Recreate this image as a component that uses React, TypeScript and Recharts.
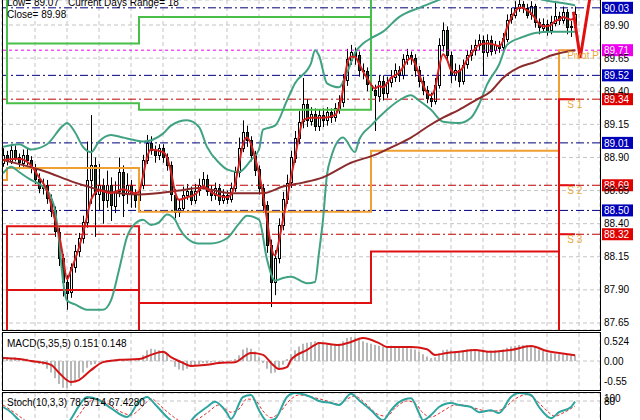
import {
  Bar,
  CartesianGrid,
  ComposedChart,
  Line,
  ReferenceDot,
  ReferenceLine,
  XAxis,
  YAxis,
} from 'recharts'

const FONT = '"Liberation Sans", Arial, sans-serif'

// open, high, low, close (30 min bars)
const candles: [number, number, number, number][] = [
  [88.86, 88.97, 88.83, 88.92], [88.92, 88.95, 88.84, 88.88], [88.88, 89.0, 88.85, 88.96], [88.96, 88.99, 88.87, 88.9],
  [88.9, 88.93, 88.81, 88.86], [88.86, 88.96, 88.83, 88.92], [88.92, 88.97, 88.84, 88.88], [88.88, 88.91, 88.78, 88.82],
  [88.82, 88.85, 88.7, 88.74], [88.74, 88.78, 88.63, 88.67], [88.67, 88.74, 88.62, 88.69], [88.69, 88.73, 88.55, 88.59],
  [88.59, 88.62, 88.45, 88.5], [88.5, 88.53, 88.3, 88.34], [88.34, 88.37, 88.08, 88.14], [88.14, 88.17, 87.85, 87.96],
  [87.96, 88.01, 87.75, 87.88], [87.88, 88.1, 87.84, 88.07], [88.07, 88.24, 88.03, 88.19], [88.19, 88.33, 88.15, 88.29],
  [88.29, 88.46, 88.25, 88.41], [88.41, 89.02, 88.37, 88.73], [88.73, 89.22, 88.55, 88.84], [88.84, 88.9, 88.3, 88.62],
  [88.62, 88.85, 88.5, 88.69], [88.69, 88.74, 88.4, 88.58], [88.58, 88.8, 88.52, 88.69], [88.69, 88.75, 88.42, 88.54],
  [88.54, 88.72, 88.48, 88.65], [88.65, 88.9, 88.6, 88.79], [88.79, 88.84, 88.45, 88.62], [88.62, 88.78, 88.55, 88.69],
  [88.69, 88.73, 88.52, 88.62], [88.62, 88.66, 88.52, 88.58], [88.58, 88.72, 88.54, 88.69], [88.69, 88.92, 88.66, 88.88],
  [88.88, 89.07, 88.85, 89.01], [89.01, 89.06, 88.92, 88.96], [88.96, 88.99, 88.86, 88.92], [88.92, 89.0, 88.88, 88.97],
  [88.97, 89.0, 88.86, 88.9], [88.9, 88.93, 88.8, 88.84], [88.84, 88.87, 88.57, 88.62], [88.62, 88.66, 88.44, 88.49],
  [88.49, 88.58, 88.45, 88.52], [88.52, 88.68, 88.49, 88.62], [88.62, 88.7, 88.58, 88.65], [88.65, 88.68, 88.54, 88.58],
  [88.58, 88.7, 88.55, 88.65], [88.65, 88.74, 88.61, 88.69], [88.69, 88.79, 88.66, 88.74], [88.74, 88.77, 88.61, 88.65],
  [88.65, 88.69, 88.57, 88.62], [88.62, 88.71, 88.58, 88.67], [88.67, 88.7, 88.54, 88.58], [88.58, 88.66, 88.55, 88.62],
  [88.62, 88.65, 88.55, 88.59], [88.59, 88.71, 88.56, 88.67], [88.67, 88.83, 88.64, 88.79], [88.79, 89.05, 88.75, 88.97],
  [88.97, 89.18, 88.94, 89.09], [89.09, 89.14, 88.98, 89.03], [89.03, 89.06, 88.87, 88.92], [88.92, 88.95, 88.76, 88.81],
  [88.81, 88.84, 88.62, 88.67], [88.67, 88.7, 88.48, 88.54], [88.54, 88.57, 88.18, 88.24], [88.24, 88.28, 87.77, 87.96],
  [87.96, 88.2, 87.86, 88.14], [88.14, 88.44, 88.1, 88.39], [88.39, 88.64, 88.35, 88.59], [88.59, 88.77, 88.55, 88.71],
  [88.71, 88.95, 88.67, 88.9], [88.9, 89.1, 88.86, 89.05], [89.05, 89.25, 89.0, 89.17], [89.17, 89.5, 89.12, 89.3],
  [89.3, 89.34, 89.13, 89.18], [89.18, 89.28, 89.14, 89.23], [89.23, 89.27, 89.1, 89.14], [89.14, 89.26, 89.1, 89.22],
  [89.22, 89.27, 89.13, 89.18], [89.18, 89.28, 89.14, 89.24], [89.24, 89.27, 89.16, 89.2], [89.2, 89.31, 89.17, 89.27],
  [89.27, 89.37, 89.23, 89.32], [89.32, 89.53, 89.28, 89.48], [89.48, 89.72, 89.44, 89.64], [89.64, 89.75, 89.6, 89.7],
  [89.7, 89.73, 89.6, 89.67], [89.67, 89.7, 89.51, 89.56], [89.56, 89.61, 89.49, 89.55], [89.55, 89.58, 89.4, 89.45],
  [89.45, 89.49, 89.35, 89.41], [89.41, 89.45, 89.1, 89.37], [89.37, 89.52, 89.32, 89.48], [89.48, 89.52, 89.33, 89.39],
  [89.39, 89.51, 89.35, 89.47], [89.47, 89.56, 89.43, 89.51], [89.51, 89.61, 89.47, 89.56], [89.56, 89.59, 89.47, 89.52],
  [89.52, 89.68, 89.49, 89.64], [89.64, 89.72, 89.6, 89.67], [89.67, 89.7, 89.6, 89.65], [89.65, 89.68, 89.51, 89.56],
  [89.56, 89.59, 89.43, 89.48], [89.48, 89.51, 89.37, 89.41], [89.41, 89.44, 89.31, 89.35], [89.35, 89.39, 89.28, 89.33],
  [89.33, 89.5, 89.3, 89.45], [89.45, 89.8, 89.42, 89.75], [89.75, 89.92, 89.7, 89.86], [89.86, 89.89, 89.62, 89.67],
  [89.67, 89.7, 89.46, 89.52], [89.52, 89.61, 89.48, 89.56], [89.56, 89.6, 89.43, 89.48], [89.48, 89.64, 89.45, 89.6],
  [89.6, 89.71, 89.57, 89.67], [89.67, 89.75, 89.63, 89.71], [89.71, 89.79, 89.67, 89.75], [89.75, 89.83, 89.71, 89.79],
  [89.79, 89.82, 89.52, 89.7], [89.7, 89.83, 89.66, 89.79], [89.79, 89.82, 89.67, 89.71], [89.71, 89.78, 89.68, 89.75],
  [89.75, 89.78, 89.69, 89.73], [89.73, 89.84, 89.7, 89.8], [89.8, 89.98, 89.77, 89.94], [89.94, 90.03, 89.91, 89.98],
  [89.98, 90.08, 89.95, 90.03], [90.03, 90.09, 90.0, 90.06], [90.06, 90.08, 89.99, 90.03], [90.03, 90.06, 89.95, 89.98],
  [89.98, 90.08, 89.94, 90.04], [90.04, 90.06, 89.88, 89.92], [89.92, 89.95, 89.83, 89.88], [89.88, 89.95, 89.85, 89.91],
  [89.91, 89.94, 89.82, 89.86], [89.86, 89.97, 89.83, 89.92], [89.92, 90.08, 89.89, 89.97], [89.97, 90.0, 89.9, 89.94],
  [89.94, 90.04, 89.91, 90.0], [90.0, 90.02, 89.83, 89.89], [89.89, 89.93, 89.81, 89.88], [89.88, 90.04, 89.85, 89.98],
]

// [bar, value] points
const fastMa: [number, number][] = [
  [0, 88.88], [4, 88.89], [7, 88.84], [9, 88.75], [11, 88.65], [13, 88.43], [14, 88.32], [15, 88.15], [16, 87.98],
  [17, 88.05], [19, 88.22], [21, 88.45], [22, 88.58], [24, 88.65], [27, 88.63], [30, 88.66], [33, 88.63], [34, 88.64],
  [35, 88.76], [36, 88.9], [37, 88.96], [40, 88.94], [41, 88.9], [42, 88.79], [43, 88.64], [44, 88.58], [46, 88.6],
  [48, 88.62], [50, 88.68], [52, 88.64], [54, 88.61], [56, 88.6], [57, 88.62], [58, 88.7], [59, 88.85], [60, 89.0],
  [61, 89.05], [62, 89.0], [63, 88.9], [64, 88.78], [65, 88.62], [66, 88.43], [67, 88.23], [68, 88.16], [69, 88.27],
  [70, 88.43], [71, 88.58], [72, 88.75], [73, 88.9], [74, 89.06], [75, 89.18], [77, 89.2], [80, 89.2], [83, 89.22],
  [84, 89.28], [85, 89.41], [86, 89.6], [87, 89.66], [88, 89.66], [89, 89.61], [90, 89.55], [91, 89.5], [92, 89.45],
  [93, 89.42], [94, 89.44], [95, 89.43], [96, 89.46], [97, 89.5], [99, 89.54], [100, 89.58], [101, 89.63], [102, 89.65],
  [103, 89.61], [104, 89.53], [105, 89.45], [106, 89.39], [107, 89.37], [108, 89.42], [109, 89.58], [110, 89.68],
  [111, 89.64], [112, 89.56], [113, 89.54], [114, 89.55], [115, 89.58], [116, 89.64], [117, 89.68], [118, 89.72],
  [119, 89.75], [121, 89.76], [123, 89.75], [124, 89.74], [125, 89.78], [126, 89.88], [127, 89.95], [128, 90.0],
  [129, 90.03], [130, 90.03], [131, 90.01], [132, 89.99], [133, 89.95], [134, 89.91], [135, 89.89], [136, 89.89],
  [137, 89.9], [138, 89.93], [139, 89.94], [140, 89.96], [141, 89.95], [142, 89.94], [143, 89.96],
]

const slowMa: [number, number][] = [
  [0, 88.88], [10, 88.8], [18, 88.71], [25, 88.65], [34, 88.62], [44, 88.65], [49, 88.67], [57, 88.63], [65, 88.63],
  [70, 88.68], [75, 88.71], [80, 88.75], [87, 88.86], [93, 88.92], [98, 88.99], [102, 89.05], [106, 89.13], [110, 89.2],
  [114, 89.26], [118, 89.33], [122, 89.4], [125, 89.5], [129, 89.58], [133, 89.62], [137, 89.67], [143, 89.71],
]

const bandUpper: [number, number][] = [
  [0, 88.98], [4, 89.0], [7, 88.96], [11, 89.0], [15, 89.14], [16, 89.16], [18, 89.09], [20, 88.98], [22, 88.94],
  [24, 89.02], [27, 89.07], [30, 89.05], [33, 89.03], [35, 89.02], [40, 89.08], [42, 89.14], [46, 89.18], [49, 89.13],
  [51, 88.98], [54, 88.86], [56, 88.81], [59, 88.79], [62, 88.88], [64, 88.96], [65, 89.11], [68, 89.14], [71, 89.33],
  [73, 89.46], [77, 89.61], [78, 89.71], [79, 89.67], [81, 89.46], [84, 89.43], [86, 89.54], [88, 89.69], [90, 89.76],
  [92, 89.8], [95, 89.85], [99, 89.96], [104, 90.03], [109, 90.09], [114, 90.16], [119, 90.2], [124, 90.18],
  [130, 90.15], [135, 90.09], [139, 90.07], [143, 90.05],
]

const bandLower: [number, number][] = [
  [0, 88.78], [2, 88.83], [4, 88.79], [7, 88.73], [10, 88.68], [12, 88.6], [13, 88.5], [14, 88.28], [15, 87.97],
  [16, 87.82], [18, 87.79], [21, 87.75], [25, 87.75], [27, 87.82], [29, 88.05], [31, 88.3], [33, 88.4], [35, 88.43],
  [37, 88.39], [39, 88.41], [41, 88.47], [43, 88.43], [44, 88.37], [46, 88.29], [49, 88.25], [52, 88.25], [56, 88.29],
  [59, 88.4], [61, 88.46], [64, 88.43], [66, 88.13], [68, 87.97], [70, 87.99], [72, 88.0], [76, 87.95], [78, 87.96],
  [79, 88.18], [80, 88.43], [81, 88.77], [82, 88.9], [85, 89.05], [88, 88.94], [89, 89.03], [92, 89.14], [96, 89.26],
  [99, 89.33], [102, 89.37], [104, 89.33], [107, 89.26], [110, 89.17], [114, 89.16], [117, 89.2], [119, 89.3],
  [121, 89.45], [124, 89.6], [126, 89.75], [130, 89.81], [133, 89.84], [137, 89.85], [143, 89.85],
]

// daily pivot levels, one value per day starting at the given bar
const dayStart = [0, 1, 34, 92, 139]
const pivotP = [88.73, 88.82, 88.49, 88.95, 89.71]
const pivotR1 = [90.3, 89.31, 89.26, 90.13, 90.3]
const pivotR2 = [90.5, 89.76, 89.96, 90.93, 90.9]
const pivotS1 = [87.3, 88.38, 87.8, 88.19, 89.34]
const pivotS2 = [87.0, 87.9, 87.0, 87.2, 88.69]
const pivotS3 = [86.5, 86.5, 86.5, 86.5, 88.32]

const projection: [number, number][] = [[142.6, 90.0], [144.3, 89.65], [146.8, 90.12]]

const priceTicks = [89.9, 89.65, 89.4, 89.15, 88.9, 88.65, 88.4, 88.15, 87.9, 87.65]
const blueLevels = [90.03, 89.52, 89.01, 88.5]
const pinkLevels = [89.71]
const redLevels = [89.34, 88.69, 88.32]
const gridBars = [8, 16, 24, 32, 40, 48, 56, 64, 72, 80, 88, 96, 104, 112, 120, 128, 136, 144]

const macdHist = [
  0.12, 0.1, 0.08, 0.1, 0.08, 0.05, 0.06, 0.02, -0.02, -0.08, -0.1,
  -0.2, -0.3, -0.45, -0.6, -0.7, -0.72, -0.65, -0.55, -0.45, -0.3,
  -0.18, -0.1, -0.08, -0.02, 0.0, 0.02, 0.03, 0.04, 0.02, 0.05,
  0.04, 0.03, 0.02, 0.05, 0.15, 0.28, 0.32, 0.3, 0.28, 0.25,
  0.18, 0.02, -0.15, -0.22, -0.25, -0.2, -0.15, -0.12, -0.08, -0.05,
  -0.06, -0.04, -0.02, -0.05, -0.03, 0.0, 0.02, 0.05, 0.15, 0.3,
  0.35, 0.32, 0.25, 0.1, -0.05, -0.2, -0.32, -0.3, -0.22, -0.1,
  0.05, 0.18, 0.28, 0.38, 0.45, 0.48, 0.5, 0.52, 0.48, 0.45,
  0.44, 0.43, 0.42, 0.45, 0.52, 0.6, 0.63, 0.62, 0.58, 0.52,
  0.48, 0.45, 0.42, 0.4, 0.38, 0.38, 0.4, 0.38, 0.36, 0.37,
  0.36, 0.33, 0.3, 0.25, 0.18, 0.12, 0.08, 0.1, 0.2, 0.28,
  0.3, 0.28, 0.26, 0.26, 0.28, 0.3, 0.31, 0.3, 0.29, 0.27,
  0.26, 0.27, 0.28, 0.27, 0.3, 0.35, 0.38, 0.4, 0.42, 0.42,
  0.42, 0.4, 0.36, 0.3, 0.26, 0.22, 0.2, 0.19, 0.18, 0.17, 0.16, 0.15, 0.151,
]
const macdSignal: [number, number][] = [
  [0, 0.08], [4, 0.05], [7, 0.0], [12, -0.1], [14, -0.31], [17, -0.55], [19, -0.5], [22, -0.24], [25, -0.03],
  [29, 0.03], [34, 0.05], [37, 0.16], [40, 0.24], [42, 0.1], [45, -0.05], [47, -0.13], [51, -0.1], [54, -0.05],
  [58, -0.03], [62, 0.21], [65, 0.16], [67, -0.05], [69, -0.21], [71, -0.16], [72, 0.03], [76, 0.29], [78, 0.42],
  [79, 0.47], [84, 0.42], [87, 0.5], [90, 0.6], [94, 0.47], [96, 0.37], [102, 0.37], [106, 0.31], [108, 0.16],
  [111, 0.21], [114, 0.24], [118, 0.29], [122, 0.24], [127, 0.29], [132, 0.39], [136, 0.26], [139, 0.21], [143, 0.148],
]

const stochMain: [number, number][] = [
  [0, 65], [2, 52], [4, 32], [6, 18], [9, 8], [12, 6], [15, 12], [17, 35], [19, 68], [21, 90], [24, 82], [27, 62],
  [31, 40], [34, 78], [36, 90], [38, 72], [41, 40], [43, 25], [46, 22], [48, 42], [51, 65], [53, 78], [56, 50],
  [57, 35], [60, 90], [62, 95], [64, 57], [66, 30], [68, 35], [71, 90], [73, 100], [77, 90], [79, 80], [82, 75],
  [84, 70], [87, 98], [89, 82], [92, 57], [95, 32], [97, 57], [99, 77], [102, 87], [104, 50], [105, 32], [107, 45],
  [109, 65], [112, 75], [114, 70], [117, 65], [119, 52], [122, 57], [124, 50], [127, 90], [129, 100], [132, 95],
  [134, 65], [137, 37], [139, 52], [142, 65], [143, 78.57],
]
const stochSignal: [number, number][] = [
  [0, 70], [3, 50], [5, 35], [8, 18], [11, 9], [14, 8], [17, 22], [19, 45], [21, 72], [23, 85], [26, 75], [29, 55],
  [32, 45], [35, 68], [37, 85], [40, 62], [42, 45], [45, 28], [48, 32], [51, 50], [54, 70], [57, 52], [59, 60],
  [61, 85], [63, 82], [65, 55], [67, 38], [69, 50], [72, 85], [74, 95], [78, 88], [81, 80], [84, 72], [86, 85],
  [88, 92], [91, 70], [94, 45], [96, 42], [98, 62], [101, 80], [103, 75], [105, 50], [107, 40], [110, 55], [113, 70],
  [115, 70], [118, 62], [121, 55], [123, 55], [125, 60], [128, 85], [131, 96], [133, 85], [136, 55], [138, 42],
  [140, 50], [143, 67.43],
]

const lookup = (pts: [number, number][]) => new Map(pts.map(([k, v]) => [k, v]))
const dayOf = (i: number) => {
  let d = 0
  dayStart.forEach((s, k) => {
    if (i >= s) d = k
  })
  return d
}

const fastMap = lookup(fastMa)
const slowMap = lookup(slowMa)
const upMap = lookup(bandUpper)
const loMap = lookup(bandLower)

const priceRows: any[] = candles.map(([o, h, l, c], i) => {
  const d = dayOf(i)
  return {
    i, o, h, l, c,
    fast: fastMap.get(i),
    slow: slowMap.get(i),
    up: upMap.get(i),
    lo: loMap.get(i),
    p: pivotP[d], r1: pivotR1[d], r2: pivotR2[d],
    s1: pivotS1[d], s2: pivotS2[d], s3: pivotS3[d],
  }
})
projection.forEach(([i, v]) => priceRows.push({ i, proj: v }))

const sigMap = lookup(macdSignal)
const macdRows = macdHist.map((v, i) => ({ i, hist: v, sig: sigMap.get(i) }))

const kMap = lookup(stochMain)
const dMap = lookup(stochSignal)
const stochRows = candles.map((_, i) => ({ i, k: kMap.get(i), d: dMap.get(i) }))

const X_DOMAIN = [-0.25, 149.25]

function Candle(props: any) {
  const { x, y, width, height, payload } = props
  if (!payload || payload.h == null || y == null) return <g />
  const { o, h, l, c } = payload
  const top = Math.min(y, y + height)
  const span = Math.abs(height)
  const toY = (v: number) => top + ((h - v) / (h - l || 1)) * span
  const cx = Math.round(x + width / 2) + 0.5
  const yo = toY(o)
  const yc = toY(c)
  const bTop = Math.round(Math.min(yo, yc)) + 0.5
  const bH = Math.max(Math.round(Math.abs(yo - yc)), 1)
  return (
    <g>
      <line x1={cx} x2={cx} y1={top} y2={top + span} stroke="#000" strokeWidth={1} />
      <rect x={cx - 1} y={bTop} width={2} height={bH} fill={c >= o ? '#fff' : '#1e3f1e'} stroke="#000" strokeWidth={1} />
    </g>
  )
}

const PriceTick = (props: any) => (
  <text x={604} y={props.y} dy={3.5} fontSize={10} fontFamily={FONT} fill="#000">
    {Number(props.payload.value).toFixed(2)}
  </text>
)

const levelBox = (value: number, bg: string) => (props: any) => {
  const vb = props.viewBox
  const x = vb.x + vb.width + 2
  return (
    <g>
      <rect x={x} y={vb.y - 6} width={31} height={12} fill={bg} />
      <text x={x + 2} y={vb.y + 4} fontSize={10} fontFamily={FONT} fill="#fff">
        {value.toFixed(2)}
      </text>
    </g>
  )
}

const pivotLabel = (text: string) => (props: any) => (
  <text x={props.viewBox.x} y={props.viewBox.y + 10} fontSize={10} fontFamily={FONT} fill="#e8a838">
    {text}
  </text>
)

const MacdTick = (props: any) => {
  const v = Number(props.payload.value)
  return (
    <text x={604} y={props.y} dy={3.5} fontSize={10} fontFamily={FONT} fill="#000">
      {v === 0 ? '0.00' : String(v)}
    </text>
  )
}

const StochTick = (props: any) => {
  const v = Number(props.payload.value)
  return (
    <text x={604} y={props.y} dy={v === 100 ? 9 : 4} fontSize={10} fontFamily={FONT} fill="#000">
      {String(v)}
    </text>
  )
}

const box = (top: number, height: number) => ({
  position: 'absolute' as const,
  left: 2,
  top,
  width: 599,
  height,
  border: '1px solid #000',
  boxSizing: 'border-box' as const,
  pointerEvents: 'none' as const,
})

export default function App() {
  const line = { dot: false, connectNulls: true, isAnimationActive: false }
  return (
    <div style={{ position: 'absolute', left: 0, top: 0, width: 640, height: 420, overflow: 'hidden', background: '#fff', fontFamily: FONT }}>
      <div style={{ position: 'absolute', left: 0, top: 0 }}>
        <ComposedChart width={640} height={330} data={priceRows} margin={{ top: 0, right: 0, bottom: 0, left: 2 }}>
          <CartesianGrid stroke="#c4c4c4" strokeDasharray="4 3" />
          <XAxis dataKey="i" type="number" domain={X_DOMAIN} ticks={gridBars} hide allowDataOverflow />
          <YAxis
            orientation="right"
            width={40}
            domain={[87.597, 90.089]}
            ticks={priceTicks}
            interval={0}
            allowDataOverflow
            axisLine={false}
            tickLine={false}
            tick={PriceTick}
          />
          {blueLevels.map((v) => (
            <ReferenceLine key={`b${v}`} y={v} stroke="#000080" strokeDasharray="8 3 2 3" label={levelBox(v, '#0000b8')} />
          ))}
          {pinkLevels.map((v) => (
            <ReferenceLine key={`m${v}`} y={v} stroke="#ee00ee" strokeDasharray="3 3" label={levelBox(v, '#ee00ee')} />
          ))}
          {redLevels.map((v) => (
            <ReferenceLine key={`r${v}`} y={v} stroke="#c00000" strokeDasharray="8 3 2 3" label={levelBox(v, '#e00000')} />
          ))}
          <Line dataKey="r2" type="stepAfter" stroke="#48bf48" strokeWidth={2} {...line} />
          <Line dataKey="r1" type="stepAfter" stroke="#48bf48" strokeWidth={2} {...line} />
          <Line dataKey="p" type="stepAfter" stroke="#f0a030" strokeWidth={2} {...line} />
          <Line dataKey="s1" type="stepAfter" stroke="#e01010" strokeWidth={2} {...line} />
          <Line dataKey="s2" type="stepAfter" stroke="#e01010" strokeWidth={2} {...line} />
          <Line dataKey="s3" type="stepAfter" stroke="#e01010" strokeWidth={2} {...line} />
          <Bar dataKey={(d: any) => (d.h == null ? null : [d.l, d.h])} shape={Candle} barSize={3} isAnimationActive={false} />
          <Line dataKey="up" type="monotone" stroke="#41a283" strokeWidth={2} {...line} />
          <Line dataKey="lo" type="monotone" stroke="#41a283" strokeWidth={2} {...line} />
          <Line dataKey="slow" type="monotone" stroke="#8b2b2b" strokeWidth={2} {...line} />
          <Line dataKey="fast" type="monotone" stroke="#d42020" strokeWidth={2} {...line} />
          <Line dataKey="proj" type="linear" stroke="#e01010" strokeWidth={3} {...line} />
          <ReferenceDot x={141.3} y={pivotP[4]} r={1} fill="none" stroke="none" label={pivotLabel('Pivot P')} />
          <ReferenceDot x={141.3} y={pivotS1[4]} r={1} fill="none" stroke="none" label={pivotLabel('S 1')} />
          <ReferenceDot x={141.3} y={pivotS2[4]} r={1} fill="none" stroke="none" label={pivotLabel('S 2')} />
          <ReferenceDot x={141.3} y={pivotS3[4]} r={1} fill="none" stroke="none" label={pivotLabel('S 3')} />
        </ComposedChart>
      </div>
      <div style={box(-1, 332)} />

      <div style={{ position: 'absolute', left: 0, top: 333 }}>
        <ComposedChart width={640} height={57} data={macdRows} margin={{ top: 0, right: 0, bottom: 0, left: 2 }}>
          <CartesianGrid stroke="#c4c4c4" strokeDasharray="4 3" horizontalValues={[0]} />
          <XAxis dataKey="i" type="number" domain={X_DOMAIN} ticks={gridBars} hide allowDataOverflow />
          <YAxis
            orientation="right"
            width={40}
            domain={[-0.76, 0.734]}
            ticks={[0.524, 0, -0.55]}
            interval={0}
            allowDataOverflow
            axisLine={false}
            tickLine={false}
            tick={MacdTick}
          />
          <Bar dataKey="hist" fill="#b8b8b8" barSize={2} isAnimationActive={false} />
          <Line dataKey="sig" type="monotone" stroke="#d41414" strokeWidth={2} {...line} />
        </ComposedChart>
      </div>
      <div style={box(332, 59)} />

      <div style={{ position: 'absolute', left: 0, top: 393 }}>
        <ComposedChart width={640} height={40} data={stochRows} margin={{ top: 0, right: 0, bottom: 0, left: 2 }}>
          <CartesianGrid stroke="#c4c4c4" strokeDasharray="4 3" />
          <XAxis dataKey="i" type="number" domain={X_DOMAIN} ticks={gridBars} hide allowDataOverflow />
          <YAxis
            orientation="right"
            width={40}
            domain={[0, 100]}
            ticks={[100, 80]}
            interval={0}
            allowDataOverflow
            axisLine={false}
            tickLine={false}
            tick={StochTick}
          />
          <Line dataKey="d" type="monotone" stroke="#e03030" strokeWidth={1} strokeDasharray="3 2" {...line} />
          <Line dataKey="k" type="monotone" stroke="#2fa5a0" strokeWidth={2} {...line} />
        </ComposedChart>
      </div>
      <div style={box(392, 60)} />

      <svg width={640} height={420} style={{ position: 'absolute', left: 0, top: 0, pointerEvents: 'none' }}>
        <text x={7} y={6} fontSize={10} fontFamily={FONT} fill="#000">Low= 89.07</text>
        <text x={68} y={6} fontSize={10} fontFamily={FONT} fill="#000">Current Days Range= 18</text>
        <text x={7} y={18} fontSize={10} fontFamily={FONT} fill="#000">Close= 89.98</text>
        <text x={7} y={347} fontSize={10} fontFamily={FONT} fill="#000">MACD(5,35,5) 0.151 0.148</text>
        <text x={7} y={406} fontSize={10} fontFamily={FONT} fill="#000">Stoch(10,3,3) 78.5714 67.4280</text>
      </svg>
    </div>
  )
}
